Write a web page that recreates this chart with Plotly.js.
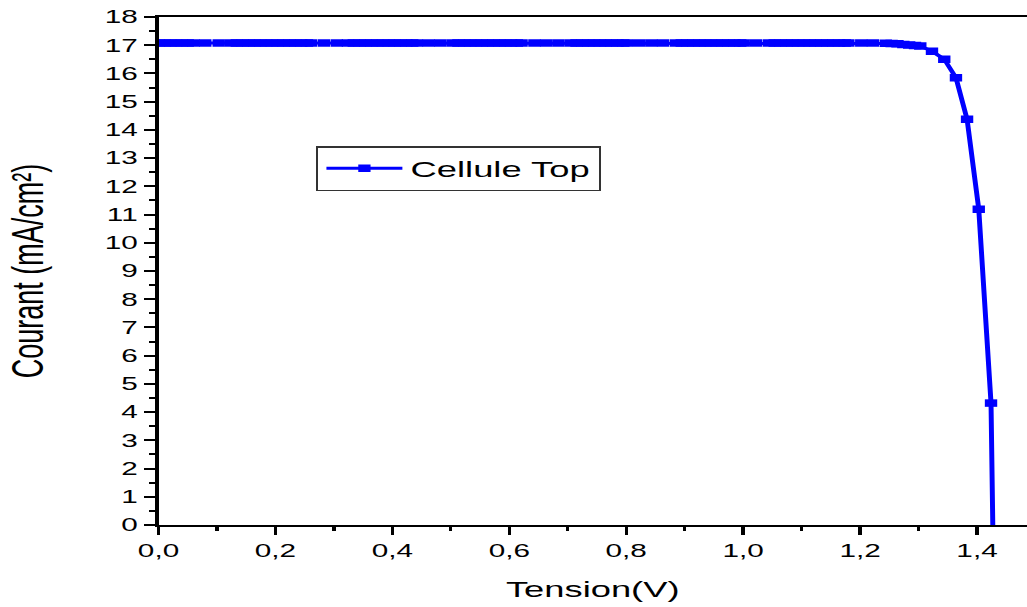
<!DOCTYPE html>
<html>
<head>
<meta charset="utf-8">
<script src="https://cdn.plot.ly/plotly-3.0.1.min.js"></script>
<style>
  html, body { margin: 0; padding: 0; background: #fff; overflow: hidden; }
  /* the figure is laid out narrow and widened horizontally to its final 1027 px */
  #chart { width: 622px; height: 607px; transform: scaleX(1.6511); transform-origin: 0 0; }
</style>
</head>
<body>
<div id="chart"></div>
<script>
// J-V curve of the top cell
const seriesName = 'Cellule Top';

const tensionV = [
  0, 0.01, 0.02, 0.03, 0.04, 0.05, 0.06,
  0.080, 0.103,
  0.124, 0.134, 0.144, 0.154, 0.164, 0.174, 0.184, 0.194, 0.204, 0.214, 0.224, 0.234, 0.244, 0.254, 0.261,
  0.283, 0.305,
  0.324, 0.334, 0.344, 0.354, 0.364, 0.374, 0.384, 0.394, 0.404, 0.414, 0.424, 0.434, 0.442,
  0.462, 0.482,
  0.503, 0.513, 0.523, 0.533, 0.543, 0.553, 0.563, 0.573, 0.583, 0.593, 0.603, 0.613, 0.621,
  0.643, 0.663, 0.684,
  0.705, 0.715, 0.725, 0.735, 0.745, 0.755, 0.765, 0.775, 0.785, 0.795, 0.801,
  0.822, 0.843, 0.863,
  0.885, 0.895, 0.905, 0.915, 0.925, 0.935, 0.945, 0.955, 0.965, 0.975, 0.985, 0.995, 1.001,
  1.022,
  1.044, 1.054, 1.064, 1.074, 1.084, 1.094, 1.104, 1.114, 1.124, 1.134, 1.144, 1.154, 1.164, 1.174, 1.180,
  1.202, 1.222,
  1.244, 1.254, 1.264, 1.274, 1.284, 1.294, 1.303,
  1.323, 1.344, 1.364, 1.383, 1.403, 1.424, 1.427
];

const courantmA = [
  17.08, 17.08, 17.08, 17.08, 17.08, 17.08, 17.08,
  17.08, 17.08,
  17.08, 17.08, 17.08, 17.08, 17.08, 17.08, 17.08, 17.08, 17.08, 17.08, 17.08, 17.08, 17.08, 17.08, 17.08,
  17.08, 17.08,
  17.08, 17.08, 17.08, 17.08, 17.08, 17.08, 17.08, 17.08, 17.08, 17.08, 17.08, 17.08, 17.08,
  17.08, 17.08,
  17.08, 17.08, 17.08, 17.08, 17.08, 17.08, 17.08, 17.08, 17.08, 17.08, 17.08, 17.08, 17.08,
  17.08, 17.08, 17.08,
  17.08, 17.08, 17.08, 17.08, 17.08, 17.08, 17.08, 17.08, 17.08, 17.08, 17.08,
  17.08, 17.08, 17.08,
  17.08, 17.08, 17.08, 17.08, 17.08, 17.08, 17.08, 17.08, 17.08, 17.08, 17.08, 17.08, 17.08,
  17.08,
  17.08, 17.08, 17.08, 17.08, 17.08, 17.08, 17.08, 17.08, 17.08, 17.08, 17.08, 17.08, 17.08, 17.08, 17.08,
  17.08, 17.08,
  17.07, 17.06, 17.05, 17.03, 17.01, 16.99, 16.97,
  16.79, 16.50, 15.85, 14.38, 11.19, 4.32, 0
];

const xTitle = 'Tension(V)';
const yTitle = 'Courant (mA/cm²)';

// no symbol on the closing point that sits on the axis
const markerSizes = tensionV.map((v, i) => (i === tensionV.length - 1 ? 0 : 7.5));

const trace = {
  x: tensionV,
  y: courantmA,
  name: seriesName,
  type: 'scatter',
  mode: 'lines+markers',
  line: { color: '#0000ff', width: 3 },
  marker: { symbol: 'square', size: markerSizes, opacity: 1, color: '#0000ff', line: { width: 0 } },
  showlegend: true
};

const axisCommon = {
  showline: true,
  linecolor: '#000',
  linewidth: 2,
  ticks: 'outside',
  tickcolor: '#000',
  tickwidth: 2,
  showgrid: false,
  zeroline: false,
  tickfont: { size: 18, color: '#000' }
};

const layout = {
  width: 622,
  height: 607,
  margin: { l: 95.7, r: 0, t: 16.7, b: 82 },
  paper_bgcolor: '#fff',
  plot_bgcolor: '#fff',
  separators: ', ',
  font: { family: 'Liberation Sans, Arial, sans-serif', color: '#000' },
  xaxis: Object.assign({}, axisCommon, {
    range: [0, 1.4855],
    tick0: 0,
    dtick: 0.2,
    tickformat: '.1f',
    ticklen: 8,
    mirror: true,
    minor: { dtick: 0.1, ticks: 'outside', ticklen: 4, tickwidth: 2, tickcolor: '#000', showgrid: false },
    title: { text: xTitle, font: { size: 22, color: '#000' }, standoff: 22 }
  }),
  yaxis: Object.assign({}, axisCommon, {
    range: [0, 18],
    tick0: 0,
    dtick: 1,
    ticklen: 7,
    minor: { dtick: 0.5, ticks: 'outside', ticklen: 3.5, tickwidth: 2, tickcolor: '#000', showgrid: false },
    title: { text: yTitle, font: { size: 27, color: '#000' }, standoff: 29 }
  }),
  legend: {
    x: 0.181,
    y: 0.746,
    xanchor: 'left',
    yanchor: 'top',
    bgcolor: '#fff',
    bordercolor: '#333',
    borderwidth: 1.5,
    itemwidth: 46,
    font: { size: 22, color: '#000' }
  }
};

Plotly.newPlot('chart', [trace], layout, { displayModeBar: false, staticPlot: true });
</script>
</body>
</html>
